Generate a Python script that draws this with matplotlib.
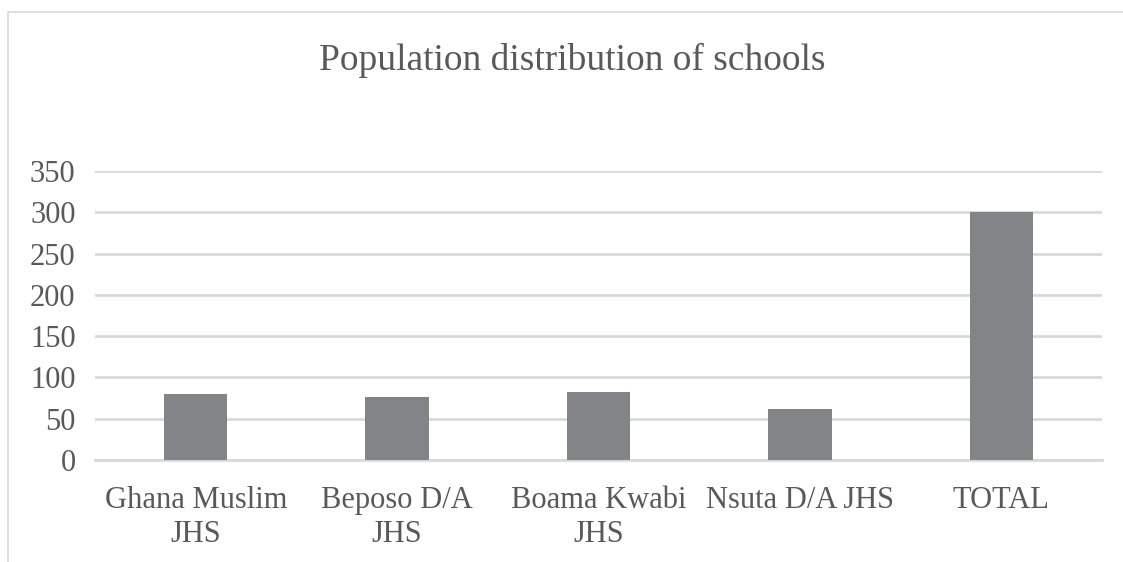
import matplotlib.pyplot as plt
from matplotlib.patches import Rectangle

plt.rcParams["font.family"] = ["Liberation Serif", "DejaVu Serif"]

categories = ["Ghana Muslim\nJHS", "Beposo D/A\nJHS", "Boama Kwabi\nJHS", "Nsuta D/A JHS", "TOTAL"]
population = [80, 76, 82, 62, 300]
y_ticks = [0, 50, 100, 150, 200, 250, 300, 350]

TEXT_GREY = "#595959"
BAR_GREY = "#838487"
GRID_GREY = "#d9d9d9"

fig = plt.figure(figsize=(11.23, 5.62), dpi=100)
ax = fig.add_axes([95 / 1123, 1 - 460 / 562, (1102 - 95) / 1123, (460 - 171) / 562])

x = list(range(len(categories)))
ax.bar(x, population, width=0.315, color=BAR_GREY, zorder=3)

ax.set_ylim(0, 350)
ax.set_xlim(-0.5, len(categories) - 0.5)
ax.set_yticks(y_ticks)
ax.set_xticks(x)
ax.set_xticklabels(categories, fontsize=22, color=TEXT_GREY, linespacing=1.2)
ax.tick_params(axis="y", labelsize=22, labelcolor=TEXT_GREY, length=0, pad=14)
ax.tick_params(axis="x", length=0, pad=19)
for lbl in ax.get_xticklabels():
    lbl.set_verticalalignment("top")

ax.grid(axis="y", color=GRID_GREY, linewidth=2, zorder=0)
for side in ("top", "right", "left"):
    ax.spines[side].set_visible(False)
ax.spines["bottom"].set_color(GRID_GREY)
ax.spines["bottom"].set_linewidth(2)

fig.text(572 / 1123, 1 - 60 / 562, "Population distribution of schools",
         ha="center", va="center", fontsize=27, color=TEXT_GREY)

# chart frame (cut off at right and bottom)
fig.patches.append(Rectangle((8 / 1123, -0.1), 1.5, 1.1 - 12 / 562,
                             transform=fig.transFigure, fill=False,
                             edgecolor=GRID_GREY, linewidth=1.2))

fig.savefig("out.png", dpi=100)
